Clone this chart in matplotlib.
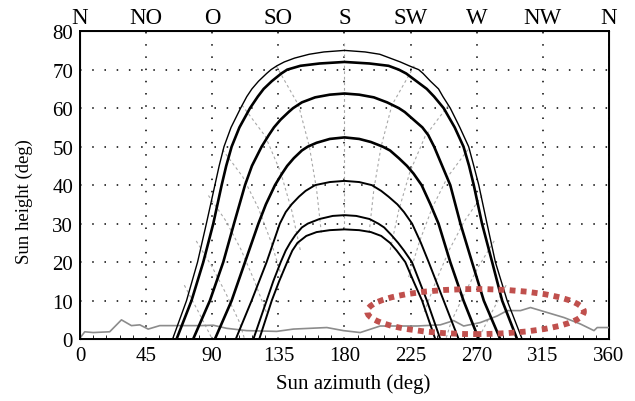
import matplotlib
matplotlib.use("Agg")
import matplotlib.pyplot as plt
from matplotlib.patches import Ellipse

plt.rcParams["font.family"] = ["Liberation Serif", "DejaVu Serif"]

# sun path curves (azimuth deg, height deg)
path1_az = [63, 72.5, 80, 86, 91.8, 94.7, 98, 102.8, 109.3, 113.5, 117, 121.5, 127, 130, 134, 139,
            146, 156, 166, 180, 194, 204, 211, 218, 224, 230.5, 233.5, 238.5, 244, 247, 252,
            258.5, 264.5, 268, 271.4, 277, 282.7, 290.7, 300.9]
path1_h = [0, 10, 20, 30, 40, 45, 50, 55, 60, 63, 65, 67, 69, 70, 71, 72,
           73, 74, 74.6, 75, 74.6, 74, 73, 72, 71, 70, 69, 67, 65, 63, 60,
           55, 50, 45, 40, 30, 20, 10, 0]

path2_az = [65.7, 75.9, 83.9, 90.7, 96.4, 99.5, 103.2, 108.5, 115.7, 121, 125, 130.5, 137, 141,
            150, 163, 180, 197, 210, 217, 222, 229, 236, 241, 247.5, 255, 261, 264.8, 268,
            273.6, 280.5, 287.3, 297.5]
path2_h = [0, 10, 20, 30, 40, 45, 50, 55, 60, 63, 65, 67, 69, 70,
           71, 71.6, 72, 71.6, 71, 70, 69, 67, 65, 63, 60, 55, 50, 45, 40,
           30, 20, 10, 0]

path3_az = [77, 88.4, 97.5, 104.8, 112.3, 117, 123.6, 128.5, 132, 136.5, 142, 145, 151, 160, 170,
            180, 190, 200, 209, 217, 221, 227, 233, 237, 241, 246.5, 252, 258.9, 266.8, 274.8, 286]
path3_h = [0, 10, 20, 30, 40, 45, 50, 53, 55, 57, 59, 60, 61.5, 62.8, 63.5,
           63.8, 63.5, 62.8, 61.5, 60, 59, 57, 55, 53, 50, 45, 40, 30, 20, 10, 0]

path4_az = [91.8, 103.2, 112.3, 121.4, 126.5, 132.7, 137.5, 141, 145.5, 151, 155, 161, 170, 180,
            190, 198, 206, 211, 217, 222.5, 227, 232.5, 238.5, 244, 252, 261, 271.4]
path4_h = [0, 10, 20, 30, 35, 40, 43, 45, 47, 49, 50, 51, 52, 52.4,
           52, 51.2, 50, 49, 47, 45, 43, 40, 35, 30, 20, 10, 0]

path5_az = [106, 116.8, 127, 131.5, 136, 140, 144, 149, 153.5, 160, 170, 180,
            190, 198.6, 205, 210, 216, 220.5, 226, 232, 237.3, 247.5, 257.7]
path5_h = [0, 10, 20, 25, 30, 33, 35, 37, 38.5, 40, 40.8, 41.1,
           40.8, 40, 38.5, 37, 35, 33, 30, 25, 20, 10, 0]

path6_az = [118, 127, 131.5, 136.6, 140, 143, 146.5, 151, 155, 163, 172, 180,
            188, 197, 203, 207, 212, 216.5, 220.5, 225.9, 231, 236.1, 245.2]
path6_h = [0, 10, 15, 20, 23, 25, 27, 29, 30, 31.2, 32, 32.2,
           32, 31.2, 30, 29, 27, 25, 23, 20, 15, 10, 0]

path7_az = [122, 130.5, 135.5, 141, 144.5, 148, 154, 161, 170, 180,
            190, 198, 205, 211, 215.5, 221.4, 227, 232.8, 241.8]
path7_h = [0, 10, 15, 20, 23, 25, 26.8, 27.8, 28.3, 28.5,
           28.3, 27.8, 26.8, 25, 23, 20, 15, 10, 0]

paths = [(path1_az, path1_h, 1.0), (path2_az, path2_h, 1.9), (path3_az, path3_h, 1.9),
         (path4_az, path4_h, 1.9), (path5_az, path5_h, 1.4), (path6_az, path6_h, 1.4),
         (path7_az, path7_h, 1.4)]

# hour lines (morning, noon, afternoon)
hour_az = [
    [133.5, 148.7, 156.1, 161.0, 164.3],
    [110.2, 126.1, 136.5, 144.1, 150.1],
    [97.0, 110.7, 121.3, 130.0, 137.6],
    [87.4, 99.3, 109.4, 118.4, 126.8],
    [79.1, 89.7, 99.3, 108.4, 112.0],
    [71.0, 80.7, 90.0],
    [180.0, 180.0],
    [227.5, 212.3, 204.9, 200.0, 196.7],
    [250.8, 234.9, 224.5, 216.9, 210.9],
    [264.0, 250.3, 239.7, 231.0, 223.4],
    [273.6, 261.7, 251.6, 242.6, 234.2],
    [281.9, 271.3, 261.7, 252.6, 249.0],
    [290.0, 280.3, 271.0],
]
hour_h = [
    [71.0, 60.8, 50.0, 38.9, 27.4],
    [60.8, 52.7, 43.4, 33.4, 22.8],
    [49.2, 42.2, 34.1, 25.3, 15.8],
    [37.3, 30.7, 23.4, 15.4, 7.0],
    [25.5, 18.9, 11.85, 4.5, 0.0],
    [14.0, 7.0, 0.0],
    [77.0, 28.5],
    [71.0, 60.8, 50.0, 38.9, 27.4],
    [60.8, 52.7, 43.4, 33.4, 22.8],
    [49.2, 42.2, 34.1, 25.3, 15.8],
    [37.3, 30.7, 23.4, 15.4, 7.0],
    [25.5, 18.9, 11.85, 4.5, 0.0],
    [14.0, 7.0, 0.0],
]

# horizon profile
horizon_az = [0.25, 3.2, 8.9, 20.2, 28.2, 35, 40.7, 46.4, 54.3, 65.7, 81.6, 90.7, 99.8, 113.4,
              133.9, 145.2, 168, 179.3, 190.7, 204.3, 215.7, 229.3, 245.2, 254.3, 261.1, 272.5,
              283.9, 290.7, 299.8, 306.6, 318, 329.4, 340.7, 349.8, 352, 360]
horizon_h = [0.4, 1.9, 1.7, 1.9, 5.0, 3.5, 3.7, 2.6, 3.5, 3.5, 3.5, 3.6, 2.8, 2.2,
             2.0, 2.6, 3.0, 2.2, 1.7, 3.4, 3.4, 3.4, 3.7, 4.8, 3.4, 4.3,
             6.0, 7.4, 7.4, 8.2, 6.9, 5.6, 3.9, 2.2, 3.0, 3.0]

x_ticks = [0, 45, 90, 135, 180, 225, 270, 315, 360]
compass = ["N", "NO", "O", "SO", "S", "SW", "W", "NW", "N"]
y_ticks = [0, 10, 20, 30, 40, 50, 60, 70, 80]

# highlighted region
ell_center = (269.2, 7.15)
ell_width = 147.5
ell_height = 11.7

fig = plt.figure(figsize=(6.35, 4.02), dpi=100)
ax = fig.add_axes([0.126, 0.154, 0.833, 0.766])

for az, h in zip(hour_az, hour_h):
    ax.plot(az, h, color="#a8a8a8", lw=0.8, dashes=(2.5, 2.5), zorder=2)

ax.plot(horizon_az, horizon_h, color="#8c8c8c", lw=1.2, zorder=3)

for az, h, lw in paths:
    ax.plot(az, h, color="black", lw=lw, zorder=4, solid_joinstyle="round")

ax.add_patch(Ellipse(ell_center, ell_width, ell_height, fill=False,
                     edgecolor="#c0504d", lw=4.2, linestyle=(0, (1.0, 0.9)), zorder=5))

ax.set_xlim(0, 360)
ax.set_ylim(0, 80)
ax.set_xticks(x_ticks)
ax.set_yticks(y_ticks)
ax.set_xticks(range(0, 361, 9), minor=True)
ax.tick_params(axis="both", which="major", length=0, labelsize=15, pad=5)
ax.tick_params(axis="x", which="minor", direction="in", length=3, width=0.6, top=True, bottom=True)
ax.grid(True, which="major", color="black", lw=1.1, linestyle=(0, (1, 7)))
for s in ax.spines.values():
    s.set_linewidth(1.4)

ax.set_xlabel("Sun azimuth (deg)", fontsize=15)
ax.set_ylabel("Sun height (deg)", fontsize=13.5)
ax.xaxis.set_label_coords(0.516, -0.11)
ax.yaxis.set_label_coords(-0.088, 0.45)

top = ax.twiny()
top.set_xlim(0, 360)
top.set_xticks(x_ticks)
top.set_xticklabels(compass)
top.tick_params(axis="x", length=0, labelsize=16.5, pad=2)

fig.savefig("out.png", dpi=100)
